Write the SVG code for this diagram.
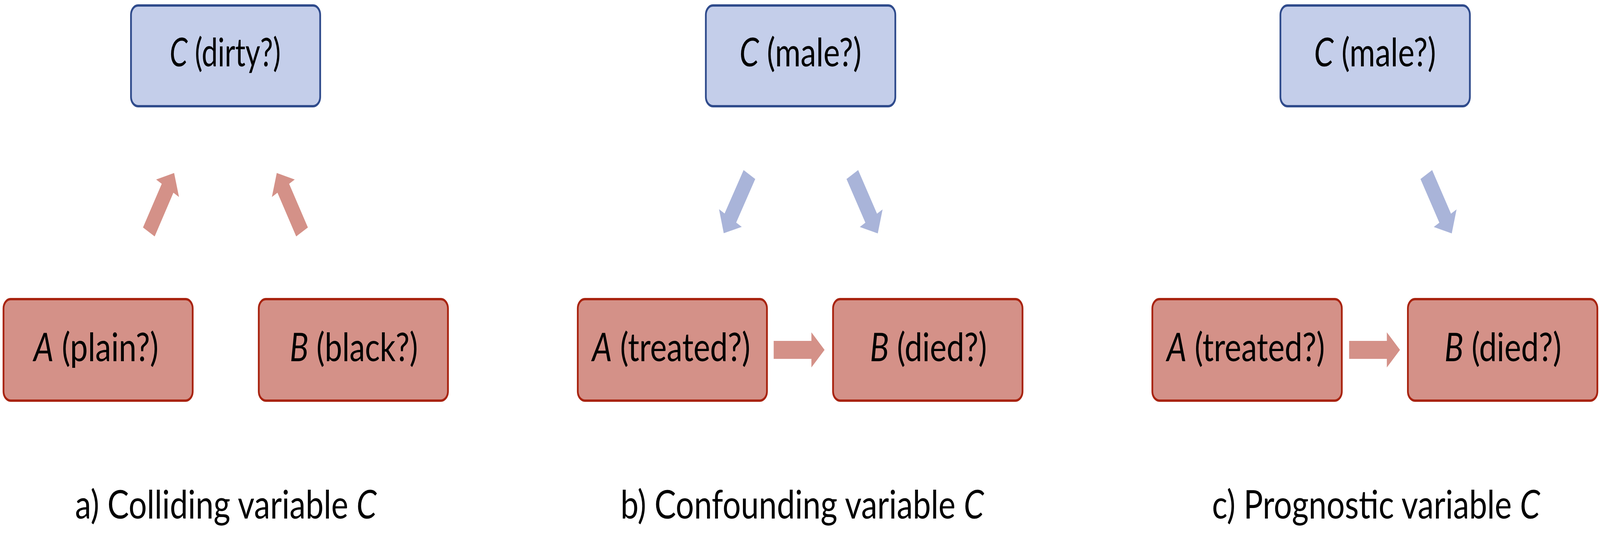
<svg xmlns="http://www.w3.org/2000/svg" width="5472" height="1388" viewBox="0 0 5472 1388" preserveAspectRatio="none" style="width:100%;height:100%">
<style>
.bg{fill:#ffffff}
.red{fill:#D49188;stroke:#A8230F;stroke-width:6}
.blue{fill:#C4CEEA;stroke:#2F4B8C;stroke-width:6}
.t{font-family:Lato,"Liberation Sans",sans-serif;font-size:101px;fill:#000}
.i{font-style:italic}
.ra{fill:#D49188}
.ba{fill:#A9B4D9}
</style>
<defs>
<polygon id="arr" points="0,-23 129,-23 129,-45 174,0 129,45 129,23 0,23"/>
</defs>
<rect class="bg" x="0" y="0" width="5472" height="1388"/>
<g id="connectors">
<use href="#arr" class="ra" transform="translate(509,594) rotate(-60.2)"/>
<use href="#arr" class="ra" transform="translate(1033,594) rotate(-119.8)"/>
<use href="#arr" class="ba" transform="translate(2563,447) rotate(120.3)"/>
<use href="#arr" class="ba" transform="translate(2915,447) rotate(60)"/>
<use href="#arr" class="ra" transform="translate(2646,896)"/>
<use href="#arr" class="ba" transform="translate(4878,447) rotate(60)"/>
<use href="#arr" class="ra" transform="translate(4614,896)"/>
</g>
<g id="a-C"><rect class="blue" x="448" y="14" width="647" height="258" rx="24"/><text class="t" x="580" y="170" textLength="380" lengthAdjust="spacingAndGlyphs"><tspan class="i">C</tspan> (dirty?)</text></g>
<g id="a-A"><rect class="red" x="12" y="766" width="647" height="260" rx="24"/><text class="t" x="115" y="925" textLength="427" lengthAdjust="spacingAndGlyphs"><tspan class="i">A</tspan> (plain?)</text></g>
<g id="a-B"><rect class="red" x="885" y="766" width="647" height="260" rx="24"/><text class="t" x="991" y="925" textLength="438" lengthAdjust="spacingAndGlyphs"><tspan class="i">B</tspan> (black?)</text></g>
<g id="b-C"><rect class="blue" x="2414" y="14" width="648" height="258" rx="24"/><text class="t" x="2529" y="170" textLength="417" lengthAdjust="spacingAndGlyphs"><tspan class="i">C</tspan> (male?)</text></g>
<g id="b-A"><rect class="red" x="1976" y="766" width="647" height="260" rx="24"/><text class="t" x="2025" y="925" textLength="541" lengthAdjust="spacingAndGlyphs"><tspan class="i">A</tspan> (treated?)</text></g>
<g id="b-B"><rect class="red" x="2849" y="766" width="648" height="260" rx="24"/><text class="t" x="2975" y="925" textLength="400" lengthAdjust="spacingAndGlyphs"><tspan class="i">B</tspan> (died?)</text></g>
<g id="c-C"><rect class="blue" x="4379" y="14" width="648" height="258" rx="24"/><text class="t" x="4494" y="170" textLength="417" lengthAdjust="spacingAndGlyphs"><tspan class="i">C</tspan> (male?)</text></g>
<g id="c-A"><rect class="red" x="3941" y="766" width="648" height="260" rx="24"/><text class="t" x="3990" y="925" textLength="541" lengthAdjust="spacingAndGlyphs"><tspan class="i">A</tspan> (treated?)</text></g>
<g id="c-B"><rect class="red" x="4815" y="766" width="648" height="260" rx="24"/><text class="t" x="4940" y="925" textLength="400" lengthAdjust="spacingAndGlyphs"><tspan class="i">B</tspan> (died?)</text></g>
<g id="captions">
<text class="t" x="257" y="1328" textLength="1031" lengthAdjust="spacingAndGlyphs">a) Colliding variable <tspan class="i">C</tspan></text>
<text class="t" x="2122" y="1328" textLength="1243" lengthAdjust="spacingAndGlyphs">b) Confounding variable <tspan class="i">C</tspan></text>
<text class="t" x="4145" y="1328" textLength="1122" lengthAdjust="spacingAndGlyphs">c) Prognostic variable <tspan class="i">C</tspan></text>
</g>
</svg>
